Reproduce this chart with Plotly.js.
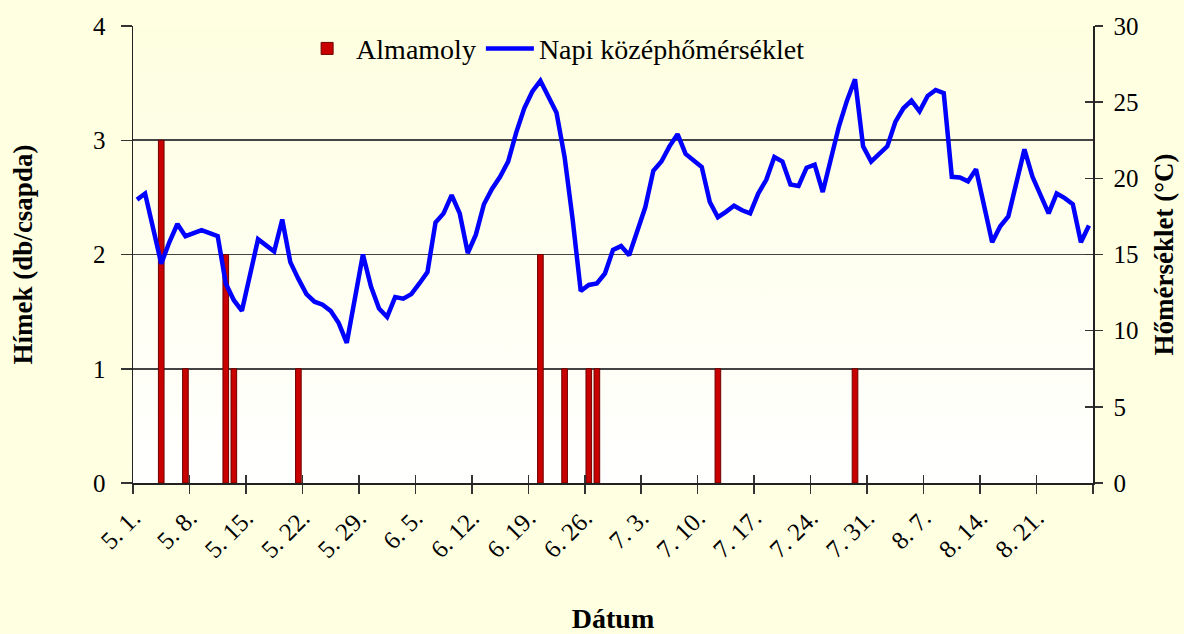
<!DOCTYPE html>
<html>
<head>
<meta charset="utf-8">
<script src="https://cdn.plot.ly/plotly-3.0.1.min.js"></script>
<style>
  html, body { margin: 0; padding: 0; background: #FFFFE1; }
  #chart { width: 1184px; height: 634px; }
</style>
</head>
<body>
<div id="chart"></div>
<script>
// ---- Data ----
const tickLabels = ['5. 1.', '5. 8.', '5. 15.', '5. 22.', '5. 29.', '6. 5.', '6. 12.', '6. 19.',
                    '6. 26.', '7. 3.', '7. 10.', '7. 17.', '7. 24.', '7. 31.', '8. 7.', '8. 14.', '8. 21.', ''];

// Daily mean temperature (°C), 5.1. – 8.27.
const temperature = [
  18.6, 19.0, 16.7, 14.4, 15.8, 17.0, 16.2, 16.4, 16.6, 16.4,
  16.2, 13.1, 12.0, 11.3, 13.7, 16.0, 15.6, 15.2, 17.3, 14.5,
  13.4, 12.4, 11.9, 11.7, 11.3, 10.5, 9.2, 12.1, 15.0, 12.9,
  11.45, 10.9, 12.2, 12.1, 12.4, 13.1, 13.85, 17.1, 17.7, 18.9,
  17.7, 15.1, 16.3, 18.3, 19.3, 20.1, 21.1, 23.0, 24.6, 25.7,
  26.4, 25.35, 24.3, 21.4, 17.3, 12.6, 13.0, 13.1, 13.75, 15.3,
  15.55, 14.95, 16.5, 18.1, 20.5, 21.1, 22.1, 22.9, 21.6, 21.2,
  20.75, 18.45, 17.45, 17.8, 18.2, 17.9, 17.7, 19.0, 19.9, 21.4,
  21.1, 19.6, 19.5, 20.7, 20.9, 19.1, 21.2, 23.4, 25.1, 26.5,
  22.1, 21.1, 21.6, 22.1, 23.7, 24.6, 25.1, 24.4, 25.4, 25.8,
  25.6, 20.1, 20.05, 19.8, 20.6, 18.2, 15.8, 16.85, 17.5, 19.7,
  21.9, 20.1, 18.9, 17.7, 19.0, 18.7, 18.3, 15.8, 16.9
];

// Codling moth (Almamoly) catches: date and males per trap
const mothDates  = ['5.4.', '5.7.', '5.12.', '5.13.', '5.21.', '6.20.', '6.23.', '6.26.', '6.27.', '7.12.', '7.29.'];
const mothCounts = [3, 1, 2, 1, 1, 2, 1, 1, 1, 1, 1];

// ---- Helpers ----
const monthStart = {5: 0, 6: 31, 7: 61, 8: 92};
function dayIndex(str) {
  const p = str.split('.');
  return monthStart[+p[0]] + (+p[1]) - 1;
}
const nDays = temperature.length;
const tempX = temperature.map((_, i) => i + 0.5);
const mothX = mothDates.map(d => dayIndex(d) + 0.5);
const tickVals = tickLabels.map((_, i) => i * 7);

const serif = 'Liberation Serif, Times New Roman, serif';

const gradSvg = '<svg xmlns="http://www.w3.org/2000/svg" width="10" height="100" preserveAspectRatio="none">' +
  '<defs><linearGradient id="g" x1="0" y1="0" x2="0" y2="1">' +
  '<stop offset="0" stop-color="#FEFEE0"/><stop offset="1" stop-color="#FFFFFF"/></linearGradient></defs>' +
  '<rect width="10" height="100" fill="url(#g)"/></svg>';
const gradUri = 'data:image/svg+xml;base64,' + btoa(gradSvg);

const traces = [
  {
    type: 'bar', name: 'Almamoly',
    x: mothX, y: mothCounts,
    width: 0.7,
    marker: { color: '#C80000', line: { color: '#6E0000', width: 1 } },
    xaxis: 'x', yaxis: 'y',
    hoverinfo: 'x+y'
  },
  {
    type: 'scatter', mode: 'lines', name: 'Napi középhőmérséklet',
    x: tempX, y: temperature,
    line: { color: '#0000FF', width: 4.5 },
    xaxis: 'x', yaxis: 'y2'
  },
  { // helper trace so the crossing (inside) tick axes get drawn
    type: 'scatter', mode: 'markers', x: [null], y: [null],
    xaxis: 'x2', yaxis: 'y3', showlegend: false, hoverinfo: 'skip'
  }
];

const layout = {
  width: 1184, height: 634,
  paper_bgcolor: '#FFFFE1',
  plot_bgcolor: 'rgba(0,0,0,0)',
  margin: { l: 133, r: 91, t: 26, b: 151, pad: 0 },
  showlegend: true,
  legend: {
    orientation: 'h', x: 0.172, y: 1.005, xanchor: 'left', yanchor: 'top',
    bgcolor: 'rgba(0,0,0,0)', font: { family: serif, size: 28, color: '#000' },
    traceorder: 'normal', itemwidth: 48
  },
  barmode: 'overlay',
  images: [{
    source: gradUri, xref: 'paper', yref: 'paper', x: 0, y: 1, sizex: 1, sizey: 1,
    sizing: 'stretch', layer: 'below', xanchor: 'left', yanchor: 'top'
  }],
  xaxis: {
    range: [0, nDays], tickmode: 'array', tickvals: tickVals, ticktext: tickLabels,
    tickangle: -45, ticks: 'outside', ticklen: 9, tickwidth: 1.5, tickcolor: '#333',
    showline: true, linecolor: '#222', linewidth: 1.5, showgrid: false, zeroline: false,
    tickfont: { family: serif, size: 25, color: '#000' },
    title: { text: 'Dátum', font: { family: serif, size: 28, color: '#000', weight: 'bold' }, standoff: 50 },
    fixedrange: true
  },
  xaxis2: {
    overlaying: 'x', anchor: 'y3', side: 'bottom', range: [0, nDays],
    tickmode: 'array', tickvals: tickVals, ticks: 'inside', ticklen: 8, tickwidth: 1.5, tickcolor: '#333',
    showticklabels: false, showgrid: false, zeroline: false, showline: false
  },
  yaxis: {
    range: [0, 4], tickvals: [0, 1, 2, 3, 4], ticks: 'outside', ticklen: 11, tickwidth: 1.5, tickcolor: '#333',
    showline: true, linecolor: '#222', linewidth: 1.5,
    showgrid: true, gridcolor: '#444', gridwidth: 1.8, zeroline: false,
    tickfont: { family: serif, size: 25, color: '#000' }, ticklabelstandoff: 10,
    title: { text: 'Hímek (db/csapda)', font: { family: serif, size: 27, color: '#000', weight: 'bold' }, standoff: 52 },
    fixedrange: true
  },
  yaxis2: {
    overlaying: 'y', side: 'right', anchor: 'x', range: [0, 30], tickvals: [0, 5, 10, 15, 20, 25, 30],
    ticks: 'outside', ticklen: 8, tickwidth: 1.5, tickcolor: '#333',
    showline: true, linecolor: '#222', linewidth: 1.5, showgrid: false, zeroline: false,
    tickfont: { family: serif, size: 25, color: '#000' }, ticklabelstandoff: 6,
    title: { text: 'Hőmérséklet (°C)', font: { family: serif, size: 27, color: '#000', weight: 'bold' }, standoff: 16 },
    fixedrange: true
  },
  yaxis3: {
    overlaying: 'y', side: 'right', anchor: 'x2', range: [0, 30], tickvals: [0, 5, 10, 15, 20, 25, 30],
    ticks: 'inside', ticklen: 8, tickwidth: 1.5, tickcolor: '#333',
    showticklabels: false, showgrid: false, zeroline: false, showline: false
  }
};

Plotly.newPlot('chart', traces, layout, { displayModeBar: false, staticPlot: true });
</script>
</body>
</html>
